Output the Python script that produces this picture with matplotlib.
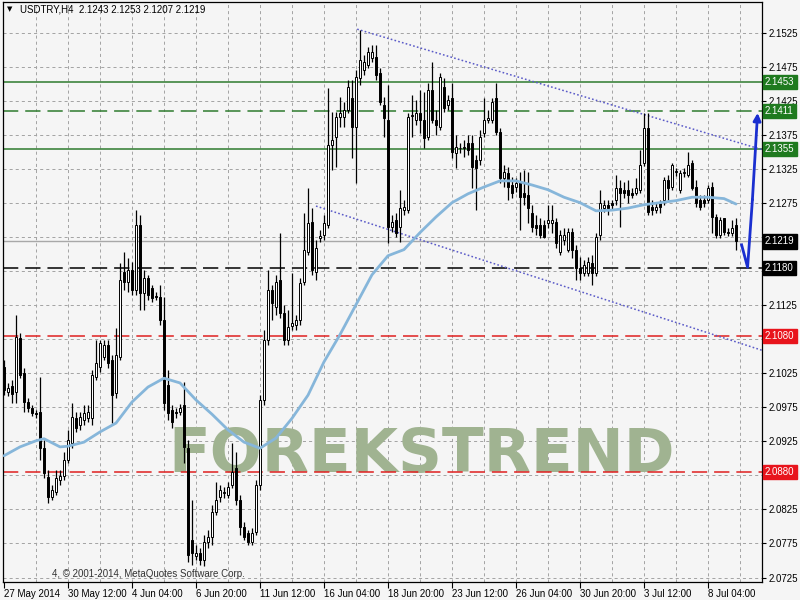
#!/usr/bin/env python3
import matplotlib
matplotlib.use('Agg')

import matplotlib.pyplot as plt
import matplotlib.transforms as mtransforms

plt.rcParams['font.family'] = ['Liberation Sans', 'DejaVu Sans']
plt.rcParams['lines.scale_dashes'] = False

# USDTRY H4 bars (bar index 0 = 27 May 2014 20:00)
opens = [
    2.1035, 2.0998, 2.1007, 2.0998, 2.1077, 2.1026, 2.0983, 2.0974, 2.0967, 2.0968,
    2.0915, 2.0873, 2.0843, 2.0851, 2.0868, 2.0874, 2.0898, 2.0923, 2.0959, 2.0949,
    2.0957, 2.0959, 2.0959, 2.1020, 2.1035, 2.1049, 2.1067, 2.1045, 2.0996, 2.1049,
    2.1174, 2.1159, 2.1177, 2.1148, 2.1243, 2.1143, 2.1165, 2.1151, 2.1139, 2.1137,
    2.1104, 2.1008, 2.0971, 2.0968, 2.0968, 2.0979, 2.0915, 2.0780, 2.0757, 2.0761,
    2.0751, 2.0777, 2.0785, 2.0821, 2.0843, 2.0849, 2.0846, 2.0861, 2.0886, 2.0839,
    2.0799, 2.0790, 2.0777, 2.0792, 2.0861, 2.0986, 2.1074, 2.1148, 2.1123, 2.1162,
    2.1114, 2.1074, 2.1095, 2.1096, 2.1104, 2.1159, 2.1204, 2.1248, 2.1174, 2.1224,
    2.1229, 2.1243, 2.1361, 2.1373, 2.1402, 2.1402, 2.1412, 2.1430, 2.1387, 2.1459,
    2.1471, 2.1478, 2.1489, 2.1490, 2.1467, 2.1420, 2.1398, 2.1240, 2.1251, 2.1240,
    2.1265, 2.1265, 2.1403, 2.1398, 2.1408, 2.1398, 2.1373, 2.1442, 2.1398, 2.1387,
    2.1446, 2.1420, 2.1430, 2.1349, 2.1356, 2.1356, 2.1364, 2.1364, 2.1339, 2.1339,
    2.1378, 2.1398, 2.1398, 2.1430, 2.1380, 2.1312, 2.1320, 2.1302, 2.1299, 2.1306,
    2.1290, 2.1287, 2.1261, 2.1243, 2.1243, 2.1243, 2.1246, 2.1246, 2.1248, 2.1204,
    2.1221, 2.1207, 2.1233, 2.1207, 2.1180, 2.1173, 2.1173, 2.1187, 2.1173, 2.1229,
    2.1268, 2.1273, 2.1276, 2.1280, 2.1298, 2.1295, 2.1295, 2.1290, 2.1290, 2.1295,
    2.1334, 2.1386, 2.1270, 2.1265, 2.1276, 2.1280, 2.1309, 2.1299, 2.1321, 2.1295,
    2.1320, 2.1317, 2.1334, 2.1299, 2.1280, 2.1280, 2.1280, 2.1299, 2.1255, 2.1229,
    2.1254, 2.1233, 2.1232, 2.1243,
]
closes = [
    2.1001, 2.1004, 2.0995, 2.1079, 2.1023, 2.0983, 2.0974, 2.0967, 2.0965, 2.0915,
    2.0879, 2.0843, 2.0854, 2.0871, 2.0874, 2.0898, 2.0927, 2.0961, 2.0945, 2.0961,
    2.0967, 2.0968, 2.1023, 2.1040, 2.1070, 2.1067, 2.1040, 2.0993, 2.1052, 2.1162,
    2.1159, 2.1177, 2.1148, 2.1243, 2.1143, 2.1165, 2.1140, 2.1136, 2.1137, 2.1104,
    2.0982, 2.0967, 2.0954, 2.0967, 2.0974, 2.0917, 2.0758, 2.0761, 2.0761, 2.0751,
    2.0777, 2.0785, 2.0821, 2.0839, 2.0854, 2.0850, 2.0858, 2.0880, 2.0839, 2.0799,
    2.0785, 2.0777, 2.0790, 2.0861, 2.0986, 2.1074, 2.1148, 2.1129, 2.1159, 2.1114,
    2.1074, 2.1093, 2.1099, 2.1104, 2.1158, 2.1207, 2.1246, 2.1177, 2.1209, 2.1227,
    2.1246, 2.1361, 2.1368, 2.1402, 2.1408, 2.1412, 2.1446, 2.1387, 2.1461, 2.1486,
    2.1483, 2.1498, 2.1498, 2.1464, 2.1424, 2.1401, 2.1240, 2.1248, 2.1232, 2.1268,
    2.1270, 2.1402, 2.1405, 2.1408, 2.1398, 2.1371, 2.1442, 2.1398, 2.1390, 2.1461,
    2.1415, 2.1427, 2.1351, 2.1358, 2.1357, 2.1358, 2.1354, 2.1329, 2.1327, 2.1373,
    2.1398, 2.1401, 2.1424, 2.1380, 2.1312, 2.1321, 2.1299, 2.1290, 2.1305, 2.1284,
    2.1284, 2.1268, 2.1240, 2.1239, 2.1229, 2.1226, 2.1251, 2.1251, 2.1217, 2.1229,
    2.1229, 2.1233, 2.1207, 2.1180, 2.1173, 2.1185, 2.1189, 2.1173, 2.1226, 2.1276,
    2.1273, 2.1268, 2.1273, 2.1298, 2.1290, 2.1290, 2.1287, 2.1288, 2.1298, 2.1331,
    2.1386, 2.1262, 2.1265, 2.1270, 2.1270, 2.1309, 2.1298, 2.1331, 2.1322, 2.1320,
    2.1321, 2.1331, 2.1298, 2.1276, 2.1270, 2.1276, 2.1298, 2.1255, 2.1229, 2.1251,
    2.1233, 2.1232, 2.1239, 2.1219,
]
highs = [
    2.1045, 2.1011, 2.1015, 2.1111, 2.1085, 2.1033, 2.0989, 2.0979, 2.0971, 2.1020,
    2.0927, 2.0883, 2.0861, 2.0883, 2.0883, 2.0910, 2.0942, 2.0982, 2.0968, 2.0968,
    2.0979, 2.0979, 2.1030, 2.1074, 2.1074, 2.1074, 2.1074, 2.1052, 2.1092, 2.1187,
    2.1204, 2.1195, 2.1189, 2.1265, 2.1258, 2.1177, 2.1170, 2.1155, 2.1145, 2.1155,
    2.1137, 2.1030, 2.0979, 2.0974, 2.0980, 2.1012, 2.0927, 2.0839, 2.0773, 2.0768,
    2.0787, 2.0795, 2.0832, 2.0865, 2.0861, 2.0858, 2.0865, 2.0923, 2.0910, 2.0846,
    2.0807, 2.0795, 2.0798, 2.0868, 2.0993, 2.1089, 2.1177, 2.1155, 2.1170, 2.1232,
    2.1126, 2.1118, 2.1173, 2.1111, 2.1165, 2.1261, 2.1298, 2.1268, 2.1221, 2.1236,
    2.1258, 2.1445, 2.1409, 2.1409, 2.1431, 2.1424, 2.1456, 2.1456, 2.1471, 2.1530,
    2.1493, 2.1505, 2.1508, 2.1508, 2.1474, 2.1431, 2.1449, 2.1258, 2.1261, 2.1295,
    2.1280, 2.1408, 2.1434, 2.1427, 2.1442, 2.1439, 2.1452, 2.1483, 2.1412, 2.1467,
    2.1459, 2.1434, 2.1452, 2.1376, 2.1364, 2.1368, 2.1376, 2.1376, 2.1346, 2.1383,
    2.1430, 2.1412, 2.1430, 2.1452, 2.1386, 2.1331, 2.1329, 2.1314, 2.1312, 2.1321,
    2.1324, 2.1321, 2.1273, 2.1258, 2.1254, 2.1251, 2.1273, 2.1273, 2.1254, 2.1236,
    2.1239, 2.1239, 2.1239, 2.1214, 2.1196, 2.1192, 2.1196, 2.1199, 2.1232, 2.1295,
    2.1280, 2.1280, 2.1280, 2.1317, 2.1309, 2.1306, 2.1309, 2.1298, 2.1312, 2.1354,
    2.1408, 2.1408, 2.1280, 2.1276, 2.1280, 2.1314, 2.1317, 2.1334, 2.1327, 2.1324,
    2.1327, 2.1351, 2.1339, 2.1309, 2.1287, 2.1287, 2.1302, 2.1306, 2.1259, 2.1255,
    2.1254, 2.1239, 2.1251, 2.1253,
]
lows = [
    2.0993, 2.0992, 2.0982, 2.0982, 2.1018, 2.0968, 2.0968, 2.0962, 2.0959, 2.0898,
    2.0871, 2.0835, 2.0839, 2.0846, 2.0861, 2.0868, 2.0893, 2.0915, 2.0939, 2.0942,
    2.0949, 2.0954, 2.0949, 2.1015, 2.1027, 2.1045, 2.1033, 2.0952, 2.0989, 2.1045,
    2.1148, 2.1145, 2.1140, 2.1140, 2.1118, 2.1118, 2.1133, 2.1130, 2.1133, 2.1096,
    2.0971, 2.0957, 2.0945, 2.0959, 2.0964, 2.0893, 2.0748, 2.0743, 2.0751, 2.0743,
    2.0742, 2.0768, 2.0773, 2.0817, 2.0836, 2.0842, 2.0842, 2.0857, 2.0832, 2.0787,
    2.0780, 2.0773, 2.0773, 2.0787, 2.0854, 2.0979, 2.1067, 2.1104, 2.1111, 2.1107,
    2.1067, 2.1067, 2.1089, 2.1089, 2.1096, 2.1155, 2.1199, 2.1170, 2.1162, 2.1218,
    2.1221, 2.1239, 2.1324, 2.1329, 2.1387, 2.1387, 2.1408, 2.1342, 2.1305, 2.1449,
    2.1464, 2.1474, 2.1483, 2.1456, 2.1420, 2.1373, 2.1217, 2.1233, 2.1226, 2.1218,
    2.1258, 2.1261, 2.1373, 2.1390, 2.1378, 2.1356, 2.1368, 2.1393, 2.1376, 2.1383,
    2.1409, 2.1412, 2.1342, 2.1327, 2.1349, 2.1343, 2.1346, 2.1298, 2.1265, 2.1331,
    2.1373, 2.1393, 2.1393, 2.1376, 2.1305, 2.1299, 2.1280, 2.1283, 2.1292, 2.1236,
    2.1273, 2.1246, 2.1233, 2.1229, 2.1224, 2.1224, 2.1239, 2.1232, 2.1209, 2.1199,
    2.1214, 2.1204, 2.1195, 2.1162, 2.1162, 2.1168, 2.1168, 2.1155, 2.1168, 2.1221,
    2.1262, 2.1258, 2.1265, 2.1273, 2.1240, 2.1283, 2.1276, 2.1283, 2.1287, 2.1290,
    2.1330, 2.1258, 2.1258, 2.1261, 2.1261, 2.1273, 2.1280, 2.1295, 2.1315, 2.1290,
    2.1314, 2.1314, 2.1295, 2.1270, 2.1265, 2.1270, 2.1276, 2.1232, 2.1224, 2.1224,
    2.1229, 2.1227, 2.1227, 2.1207,
]

# moving average, read at selected bars
ma_bars = [0, 4, 8, 10, 14, 16, 20, 24, 28, 32, 36, 40, 44, 48, 52, 56, 60, 64,
           68, 72, 76, 80, 84, 88, 92, 96, 100, 104, 108, 112, 116, 120, 124,
           128, 132, 136, 140, 144, 148, 152, 156, 160, 164, 168, 172, 176, 180, 183]
ma_vals = [2.0904, 2.0917, 2.0926, 2.0929, 2.0917, 2.0918, 2.0924, 2.0939, 2.0952,
           2.0983, 2.1005, 2.1018, 2.1011, 2.0986, 2.0965, 2.0942, 2.0924, 2.0915,
           2.0930, 2.0959, 2.0993, 2.1042, 2.1082, 2.1126, 2.1170, 2.1198, 2.1207,
           2.1232, 2.1255, 2.1276, 2.1289, 2.1299, 2.1308, 2.1308, 2.1302, 2.1295,
           2.1284, 2.1276, 2.1264, 2.1265, 2.1268, 2.1273, 2.1276, 2.1279, 2.1284,
           2.1284, 2.1282, 2.1274]

# x axis labels
label_bars = [0, 16, 32, 48, 64, 80, 96, 112, 128, 144, 160, 176]
date_labels = ['27 May 2014', '30 May 12:00', '4 Jun 04:00', '6 Jun 20:00',
               '11 Jun 12:00', '16 Jun 04:00', '18 Jun 20:00', '23 Jun 12:00',
               '26 Jun 04:00', '30 Jun 20:00', '3 Jul 12:00', '8 Jul 04:00']
price_ticks = [2.0725 + 0.005 * k for k in range(17)]
# tick labels that sit under the coloured price boxes
hidden_ticks = ['2.0875', '2.1075', '2.1175', '2.1225']

# horizontal levels: price, colour, style
levels = [
    (2.1453, '#2e7b2e', 'solid'),
    (2.1411, '#2e7b2e', 'dashed'),
    (2.1355, '#2e7b2e', 'solid'),
    (2.1180, '#000000', 'dashed'),
    (2.1080, '#e02020', 'dashed'),
    (2.0880, '#e02020', 'dashed'),
]
bid_price = 2.1219
label_boxes = [
    (2.1453, '#1f7a1f'), (2.1411, '#1f7a1f'), (2.1355, '#1f7a1f'),
    (2.1219, '#000000'), (2.1180, '#000000'),
    (2.1080, '#e8141c'), (2.0880, '#e8141c'),
]

# channel lines
upper_bars, upper_prices = [88.3, 189.5], [2.1531, 2.1354]
lower_bars, lower_prices = [78.0, 189.5], [2.1271, 2.1059]

# forecast arrow
arrow_bars = [184.4, 185.9, 187.1, 188.4]
arrow_prices = [2.1214, 2.1181, 2.1280, 2.1408]

BG = '#f5f5f5'
GRID = '#a3a3a3'

fig = plt.figure(figsize=(8, 6), dpi=100)
fig.patch.set_facecolor(BG)
ax = fig.add_axes([0.00375, 0.03, 0.94875, 0.9667])
ax.set_facecolor(BG)
ax.set_xlim(-0.25, 189.5)
ax.set_ylim(2.07184, 2.15710)

# grid
for b in range(8, 190, 8):
    ax.axvline(b, color=GRID, lw=0.7, ls=(0, (2.2, 2.2)), zorder=0.5)
for p in price_ticks:
    ax.axhline(p, color=GRID, lw=0.7, ls=(0, (2.2, 2.2)), zorder=0.5)

# watermark
ax.text(0.551, 0.1897, 'FOREKSTREND', transform=ax.transAxes, ha='center',
        va='baseline', fontsize=44, fontweight='bold', family='DejaVu Sans',
        color='#a0b391', zorder=1)

# levels and bid line
for price, col, style in levels:
    ls = '-' if style == 'solid' else (0, (11, 5))
    ax.axhline(price, color=col, lw=1.1, ls=ls, zorder=2)
ax.axhline(bid_price, color='#a8a8a8', lw=1.0, zorder=2)

# channel
ax.plot(upper_bars, upper_prices, color='#5a5ac8', lw=1.1, ls=(0, (1.2, 1.6)), zorder=2)
ax.plot(lower_bars, lower_prices, color='#5a5ac8', lw=1.1, ls=(0, (1.2, 1.6)), zorder=2)

# candles
idx = list(range(len(opens)))
ax.vlines(idx, lows, highs, color='black', lw=0.9, zorder=3)
bottoms = [min(o, c) for o, c in zip(opens, closes)]
heights = [max(abs(c - o), 0.00002) for o, c in zip(opens, closes)]
body_cols = ['white' if c >= o else 'black' for o, c in zip(opens, closes)]
ax.bar(idx, heights, bottom=bottoms, width=0.72, color=body_cols,
       edgecolor='black', linewidth=0.7, zorder=4)

# moving average
ax.plot(ma_bars, ma_vals, color='#86b6da', lw=2.0, zorder=5, solid_capstyle='round')

# forecast arrow
ax.plot(arrow_bars[:-1], arrow_prices[:-1], color='#1a2fd0', lw=2.0, zorder=6,
        clip_on=False, solid_joinstyle='round')
ax.annotate('', xy=(arrow_bars[-1], arrow_prices[-1]),
            xytext=(arrow_bars[-2], arrow_prices[-2]),
            arrowprops=dict(arrowstyle='-|>', color='#1a2fd0', lw=2.0,
                            mutation_scale=11, shrinkA=0, shrinkB=0),
            zorder=6, annotation_clip=False)

# axes styling
for sp in ax.spines.values():
    sp.set_color('black')
    sp.set_linewidth(0.9)
ax.yaxis.tick_right()
ax.set_yticks(price_ticks)
tick_txt = [f'{p:.4f}' for p in price_ticks]
ax.set_yticklabels(['' if t in hidden_ticks else t for t in tick_txt])
ax.tick_params(axis='y', length=3, pad=2, labelsize=7, direction='out', width=0.8)
ax.set_xticks(label_bars)
ax.set_xticklabels(date_labels, ha='left')
ax.tick_params(axis='x', length=4, pad=1, labelsize=7, direction='out', width=0.8)

# price boxes on the right
trans = mtransforms.blended_transform_factory(ax.transAxes, ax.transData)
for price, col in label_boxes:
    ax.text(1.004, price, f'{price:.4f}', transform=trans, ha='left', va='center',
            fontsize=7, color='white', zorder=10, clip_on=False,
            bbox=dict(boxstyle='square,pad=0.22', fc=col, ec=col))

# header and footer texts
ax.text(0.0092, 0.987, '\u25bc', transform=ax.transAxes, ha='center', va='center',
        fontsize=5, family='DejaVu Sans', color='black')
ax.text(0.0224, 0.987, 'USDTRY,H4  2.1243 2.1253 2.1207 2.1219', transform=ax.transAxes,
        ha='left', va='center', fontsize=7, color='black')
ax.text(0.0646, 0.0138, '4, \u00a9 2001-2014, MetaQuotes Software Corp.',
        transform=ax.transAxes, ha='left', va='center', fontsize=7, color='#333333')

fig.savefig('out.png', dpi=100, facecolor=BG)
